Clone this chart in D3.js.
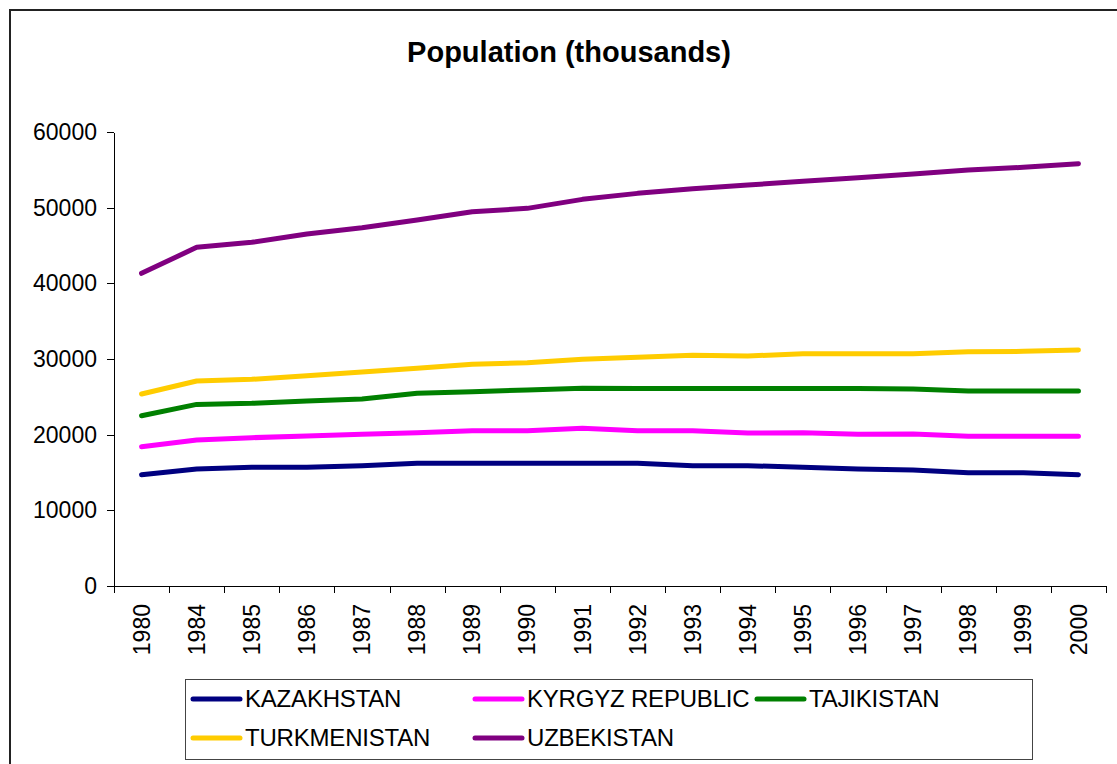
<!DOCTYPE html>
<html lang="en">
<head>
    <meta charset="UTF-8">
    <title>Population (thousands)</title>
    <script src="https://d3js.org/d3.v7.min.js"></script>
    <style>
        body {
            margin: 0;
            background-color: #fff;
            font-family: "Liberation Sans", Arial, sans-serif;
        }
        .title {
            font-size: 29px;
            font-weight: bold;
            text-anchor: middle;
            fill: #000;
        }
        .axis path, .axis line {
            stroke: #000;
            shape-rendering: crispEdges;
        }
        .axis text {
            font-family: "Liberation Sans", Arial, sans-serif;
            font-size: 23px;
            fill: #000;
        }
        .legend-text {
            font-size: 24px;
            fill: #000;
            letter-spacing: -0.2px;
        }
        .series {
            fill: none;
            stroke-width: 5;
            stroke-linejoin: round;
            stroke-linecap: round;
        }
    </style>
</head>
<body>
    <svg width="1117" height="764"></svg>

    <script>
        const years = ["1980", "1984", "1985", "1986", "1987", "1988", "1989", "1990", "1991",
                       "1992", "1993", "1994", "1995", "1996", "1997", "1998", "1999", "2000"];

        const kazakhstan   = [14710, 15460, 15690, 15690, 15900, 16210, 16210, 16210, 16210,
                              16210, 15900, 15900, 15690, 15460, 15330, 14980, 14980, 14710];
        const kyrgyz       = [18400, 19300, 19600, 19820, 20050, 20260, 20520, 20520, 20840,
                              20520, 20520, 20220, 20260, 20050, 20090, 19780, 19780, 19780];
        const tajikistan   = [22500, 24000, 24140, 24450, 24700, 25460, 25680, 25900, 26120,
                              26100, 26100, 26100, 26100, 26100, 26050, 25780, 25780, 25780];
        const turkmenistan = [25370, 27090, 27310, 27790, 28280, 28770, 29300, 29510, 29960,
                              30220, 30480, 30400, 30700, 30700, 30700, 30960, 31010, 31190];
        const uzbekistan   = [41320, 44760, 45420, 46520, 47350, 48370, 49470, 49910, 51100,
                              51890, 52500, 52990, 53480, 53960, 54450, 54980, 55330, 55810];

        const seriesNames  = ["KAZAKHSTAN", "KYRGYZ REPUBLIC", "TAJIKISTAN", "TURKMENISTAN", "UZBEKISTAN"];
        const seriesColors = ["#000080", "#ff00ff", "#008000", "#ffcc00", "#800080"];
        const yTicks = [0, 10000, 20000, 30000, 40000, 50000, 60000];

        const series = [kazakhstan, kyrgyz, tajikistan, turkmenistan, uzbekistan].map((vals, i) => ({
            name: seriesNames[i],
            color: seriesColors[i],
            values: vals
        }));

        const svg = d3.select("svg");

        // outer chart frame (right/bottom edges fall outside the picture)
        svg.append("rect")
            .attr("x", 10).attr("y", 10)
            .attr("width", 1120).attr("height", 770)
            .attr("fill", "none")
            .attr("stroke", "#222")
            .attr("stroke-width", 2);

        svg.append("text")
            .attr("class", "title")
            .attr("x", 569)
            .attr("y", 62)
            .text("Population (thousands)");

        const plot = { left: 114, right: 1106, top: 132, bottom: 586 };

        const x = d3.scaleBand()
            .domain(years)
            .range([plot.left, plot.right])
            .padding(0);

        const y = d3.scaleLinear()
            .domain([0, 60000])
            .range([plot.bottom, plot.top]);

        // y axis
        svg.append("g")
            .attr("class", "axis")
            .attr("transform", `translate(${plot.left},0)`)
            .call(d3.axisLeft(y).tickValues(yTicks).tickFormat(d3.format("d")).tickSize(7).tickSizeOuter(0).tickPadding(10));

        // x axis: ticks sit between categories
        const xEdge = d3.scaleLinear().domain([0, years.length]).range([plot.left, plot.right]);
        svg.append("g")
            .attr("class", "axis")
            .attr("transform", `translate(0,${plot.bottom})`)
            .call(d3.axisBottom(xEdge).tickValues(d3.range(years.length + 1)).tickFormat("").tickSize(7).tickSizeOuter(0));

        // x labels, rotated
        const xLabels = svg.append("g")
            .attr("class", "axis")
            .attr("transform", `translate(0,${plot.bottom})`)
            .call(d3.axisBottom(x).tickSize(0).tickPadding(0));
        xLabels.select(".domain").remove();
        xLabels.selectAll("text")
            .attr("transform", "rotate(-90)")
            .attr("x", -18)
            .attr("y", 0)
            .attr("dy", "0.35em")
            .style("text-anchor", "end");

        const line = d3.line()
            .x((d, i) => x(years[i]) + x.bandwidth() / 2)
            .y(d => y(d));

        svg.selectAll(".series")
            .data(series)
            .enter().append("path")
            .attr("class", "series")
            .attr("stroke", d => d.color)
            .attr("d", d => line(d.values));

        // legend
        const legend = svg.append("g");
        legend.append("rect")
            .attr("x", 185.5).attr("y", 679.5)
            .attr("width", 847).attr("height", 80)
            .attr("fill", "#fff")
            .attr("stroke", "#444")
            .attr("stroke-width", 1);

        const colX = [193, 475, 757];
        const rowY = [699, 738];

        const item = legend.selectAll(".item")
            .data(series)
            .enter().append("g")
            .attr("class", "item")
            .attr("transform", (d, i) => `translate(${colX[i % 3]},${rowY[Math.floor(i / 3)]})`);

        item.append("line")
            .attr("x1", 0).attr("x2", 47)
            .attr("y1", 0).attr("y2", 0)
            .attr("stroke", d => d.color)
            .attr("stroke-width", 5)
            .attr("stroke-linecap", "round");

        item.append("text")
            .attr("class", "legend-text")
            .attr("x", 52)
            .attr("y", 0)
            .attr("dy", "0.35em")
            .text(d => d.name);
    </script>
</body>
</html>
